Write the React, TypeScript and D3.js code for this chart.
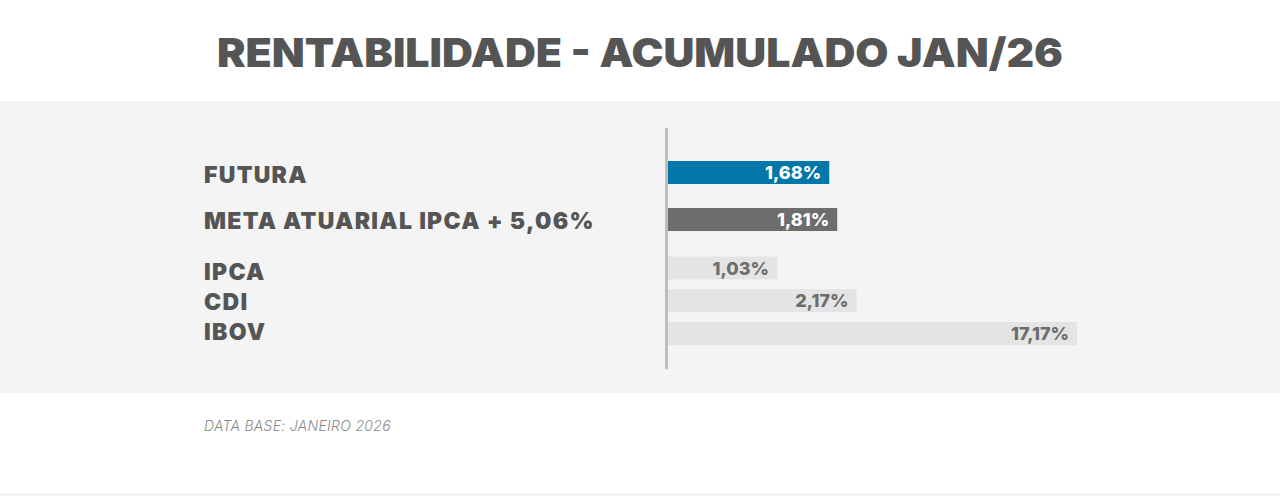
import React from "react";
import * as d3 from "d3";

const title = "RENTABILIDADE - ACUMULADO JAN/26";
const footnote = "DATA BASE: JANEIRO 2026";
const categories = ["FUTURA", "META ATUARIAL IPCA + 5,06%", "IPCA", "CDI", "IBOV"];
const values = [1.68, 1.81, 1.03, 2.17, 17.17];
const valueLabels = ["1,68%", "1,81%", "1,03%", "2,17%", "17,17%"];
const groups = ["main", "main", "ref", "ref", "ref"];

const W = 1280;
const H = 496;
const FONT = "Inter, 'Open Sans', sans-serif";

export default function App() {
  const axisX = 668;
  // non-linear display scale, as in the original graphic
  const x = d3.scaleLog().domain([0.37, 17.17]).range([axisX, 1077]);

  const mainCats = categories.filter((_, i) => groups[i] === "main");
  const refCats = categories.filter((_, i) => groups[i] === "ref");
  const yMain = d3.scalePoint<string>().domain(mainCats).range([172.5, 219.5]);
  const yRef = d3.scalePoint<string>().domain(refCats).range([268, 333.5]);
  const yLabMain = d3.scalePoint<string>().domain(mainCats).range([182.7, 229]);
  const yLabRef = d3.scalePoint<string>().domain(refCats).range([280, 340]);

  const barH = 23;
  const fill = (i: number) =>
    i === 0 ? "#0077a8" : i === 1 ? "#6d6d6d" : "#e4e4e4";
  const textFill = (i: number) => (i < 2 ? "#ffffff" : "#6d6d6d");

  return (
    <svg
      width={W}
      height={H}
      style={{ position: "absolute", left: 0, top: 0, background: "#ffffff" }}
    >
      <rect x={0} y={0} width={W} height={H} fill="#ffffff" />
      <text
        x={W / 2}
        y={67}
        textAnchor="middle"
        fontFamily={FONT}
        fontWeight={900}
        fontSize={40}
        fill="#555555"
        textLength={846}
        lengthAdjust="spacingAndGlyphs"
      >
        {title}
      </text>
      <rect x={0} y={101} width={W} height={292} fill="#f4f4f4" />
      <rect x={0} y={493} width={W} height={3} fill="#f2f2f2" />

      {categories.map((c, i) => {
        const isMain = groups[i] === "main";
        const cy = isMain ? yMain(c)! : yRef(c)!;
        const ly = isMain ? yLabMain(c)! : yLabRef(c)!;
        const xe = x(values[i]);
        return (
          <g key={c}>
            <text
              x={204}
              y={ly}
              fontFamily={FONT}
              fontWeight={900}
              fontSize={23}
              fill="#555555"
              letterSpacing={1.3}
            >
              {c}
            </text>
            <rect
              x={axisX}
              y={cy - barH / 2}
              width={xe - axisX}
              height={barH}
              fill={fill(i)}
            />
            <text
              x={xe - 8}
              y={cy + 6.5}
              textAnchor="end"
              fontFamily={FONT}
              fontWeight={800}
              fontSize={18}
              fill={textFill(i)}
            >
              {valueLabels[i]}
            </text>
          </g>
        );
      })}

      <line
        x1={666.5}
        x2={666.5}
        y1={129}
        y2={368}
        stroke="#bdbdbd"
        strokeWidth={3}
        strokeLinecap="round"
      />

      <text
        x={204}
        y={431}
        fontFamily={FONT}
        fontStyle="italic"
        fontWeight={300}
        fontSize={14}
        fill="#8a8a8a"
        letterSpacing={0.3}
      >
        {footnote}
      </text>
    </svg>
  );
}
